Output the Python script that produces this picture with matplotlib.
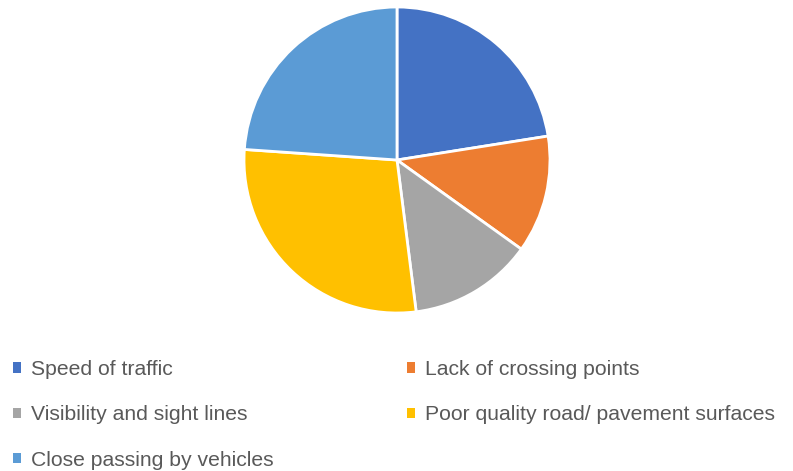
import matplotlib.pyplot as plt
from matplotlib.patches import Patch

labels = ["Speed of traffic", "Lack of crossing points", "Visibility and sight lines",
          "Poor quality road/ pavement surfaces", "Close passing by vehicles"]
values = [22.5, 12.4, 13.1, 28.1, 23.9]
colors = ["#4472C4", "#ED7D31", "#A5A5A5", "#FFC000", "#5B9BD5"]

plt.rcParams['font.family'] = ['Liberation Sans', 'DejaVu Sans']

W, H = 793, 471
fig = plt.figure(figsize=(W / 100, H / 100), dpi=100)

# pie centre ~ (397, 160), radius ~153 px
cx, cy, r = 397, 160, 153
ax = fig.add_axes([(cx - r) / W, (H - cy - r) / H, 2 * r / W, 2 * r / H])
ax.pie(values, colors=colors, startangle=90, counterclock=False,
       wedgeprops=dict(edgecolor="white", linewidth=2), radius=1)
ax.set_xlim(-1, 1)
ax.set_ylim(-1, 1)
ax.set_aspect("equal")
ax.axis("off")

handles = [Patch(facecolor=c, edgecolor="none") for c in colors]
col1 = [0, 2, 4]
col2 = [1, 3]

common = dict(loc="upper left", frameon=False, fontsize=15.2, labelcolor="#595959",
              handlelength=0.38, handleheight=0.38, handletextpad=0.45,
              borderpad=0, borderaxespad=0, labelspacing=1.25)
fig.legend([handles[i] for i in col1], [labels[i] for i in col1],
           bbox_to_anchor=(13 / W, 1 - 360 / H), **common)
fig.legend([handles[i] for i in col2], [labels[i] for i in col2],
           bbox_to_anchor=(407 / W, 1 - 360 / H), **common)

fig.savefig("out.png", dpi=100, facecolor="white")
